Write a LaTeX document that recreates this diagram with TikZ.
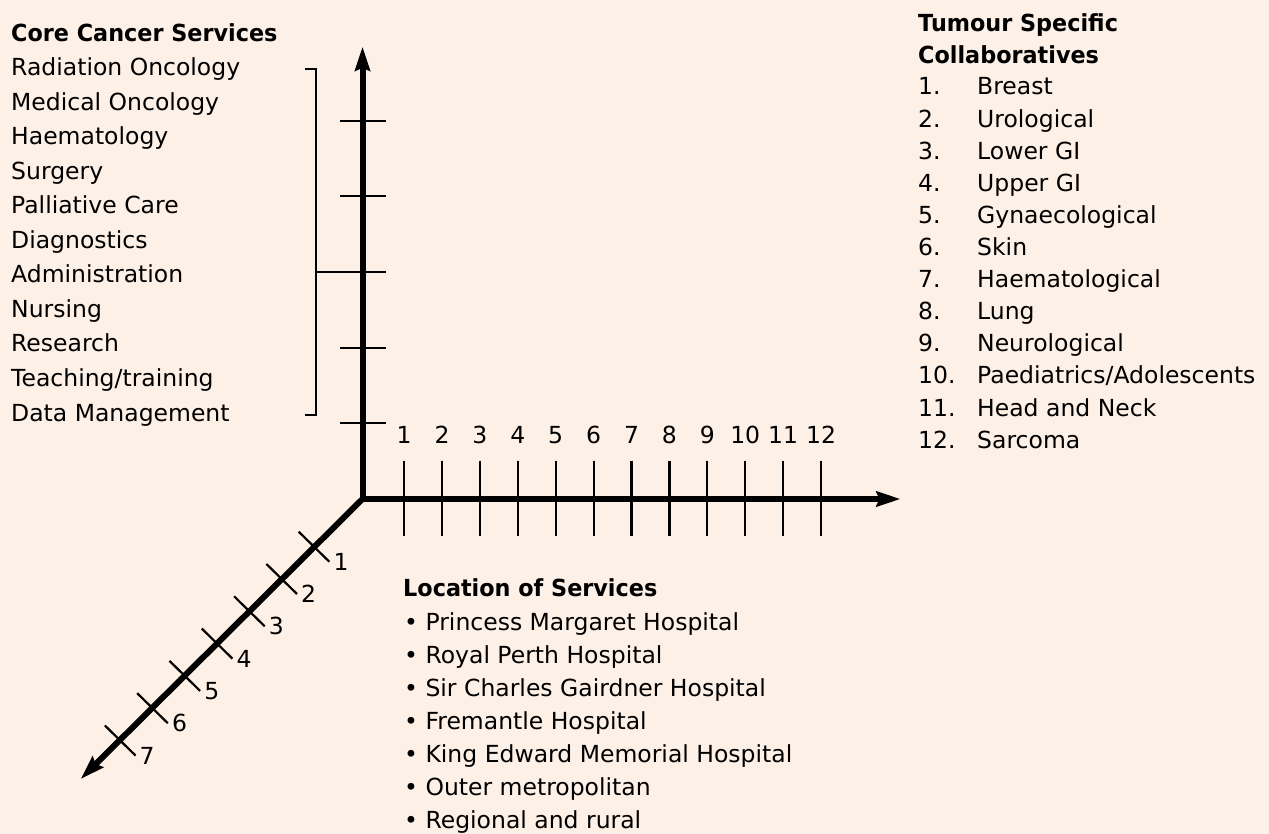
\documentclass[tikz,border=0pt]{standalone}
\usepackage{fontspec}
\setmainfont{DejaVu Sans}[BoldFeatures={FakeStretch=0.95}]
\usetikzlibrary{arrows.meta}
\definecolor{peach}{RGB}{253,240,230}
\tikzset{
  txt/.style={anchor=base west, inner sep=0pt, font=\fontsize{23.5}{28}\selectfont},
  head/.style={txt, font=\fontsize{23.5}{28}\selectfont\bfseries},
  axis/.style={line width=6pt, -{Stealth[length=24pt, width=15pt, inset=3pt]}},
  tickline/.style={line width=2.2pt},
}
\begin{document}
\begin{tikzpicture}[x=1pt, y=-1pt]
				% 0. 背景
				\fill[peach] (0,0) rectangle (1269,834);
				\useasboundingbox (0,0) rectangle (1269,834);
				
				% 1. 三条坐标轴
				\coordinate (O) at (362.5,499);
				\coordinate (Ytip) at (362.5,46.7);
				\coordinate (Xtip) at (900.5,499);
				\coordinate (Ztip) at (80.7,779);
				\draw[axis] (O) -- (Ytip);
				\draw[axis] (O) -- (Xtip);
				\draw[axis] (O) -- (Ztip);
				
				% 2. 纵轴刻度与括号
				\foreach \k in {1,...,5}
					\draw[tickline] (340,{499-75.65*\k}) -- (386,{499-75.65*\k});
				\draw[tickline] (305,69.3) -- (316,69.3) -- (316,415) -- (304.5,415);
				\draw[tickline] (316,{499-75.65*3}) -- (340,{499-75.65*3});
				
				% 3. 横轴刻度与编号
				\foreach \k in {1,...,12} {
					\draw[tickline] ({366.2+37.9*\k},460.7) -- ({366.2+37.9*\k},536);
					\node[txt, anchor=base] (xn\k) at ({366.2+37.9*\k},443) {\k};
				}
				
				% 4. 斜轴刻度与编号
				\foreach \k in {1,...,7} {
					\draw[tickline] ({346.3-32.3*\k-15.3},{514.4+32.3*\k-15}) -- ({346.3-32.3*\k+15.3},{514.4+32.3*\k+15}) coordinate (ze\k);
					\node[txt, anchor=west, inner sep=4pt] (zn\k) at (ze\k) {\k};
				}
				
				% 5. 左侧列表
				\node[head] (corehead) at (11,41.7) {Core Cancer Services};
				\foreach \lbl [count=\i from 0] in {Radiation Oncology,Medical Oncology,Haematology,Surgery,Palliative Care,Diagnostics,Administration,Nursing,Research,Teaching/training,Data Management}
					\node[txt] (core\i) at (11,{76+34.5*\i}) {\lbl};
				
				% 6. 右侧列表
				\node[head] (tumhead) at (918,31.7) {Tumour Specific};
				\node[head] (tumhead2) at (918,63.3) {Collaboratives};
				\foreach \lbl [count=\i] in {Breast,Urological,Lower GI,Upper GI,Gynaecological,Skin,Haematological,Lung,Neurological,Paediatrics/Adolescents,Head and Neck,Sarcoma} {
					\node[txt] (tnum\i) at (918,{95+32.1*(\i-1)}) {\i.};
					\node[txt] (tum\i) at (977,{95+32.1*(\i-1)}) {\lbl};
				}
				
				% 7. 下方列表
				\node[head] (lochead) at (403,596) {Location of Services};
				\foreach \lbl [count=\i from 0] in {Princess Margaret Hospital,Royal Perth Hospital,Sir Charles Gairdner Hospital,Fremantle Hospital,King Edward Memorial Hospital,Outer metropolitan,Regional and rural}
					\node[txt] (loc\i) at (404,{630.7+33*\i}) {\textbullet\ \lbl};
			\end{tikzpicture}
\end{document}
